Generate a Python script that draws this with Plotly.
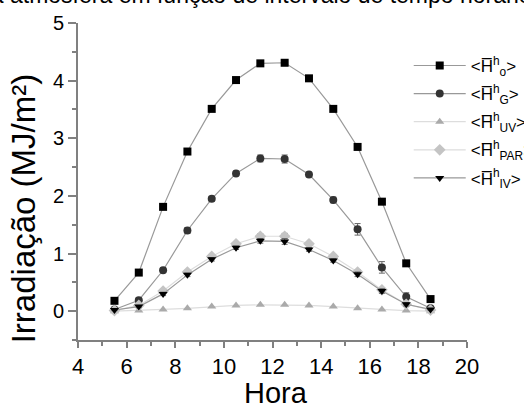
import plotly.graph_objects as go

hora = [5.5, 6.5, 7.5, 8.5, 9.5, 10.5, 11.5, 12.5, 13.5, 14.5, 15.5, 16.5, 17.5, 18.5]
h_o = [0.18, 0.67, 1.81, 2.77, 3.51, 4.01, 4.30, 4.31, 4.04, 3.51, 2.85, 1.90, 0.83, 0.21]
h_g = [0.03, 0.19, 0.71, 1.40, 1.95, 2.39, 2.65, 2.64, 2.37, 1.93, 1.42, 0.76, 0.25, 0.05]
h_g_err = [0.02, 0.04, 0.04, 0.05, 0.04, 0.04, 0.06, 0.07, 0.04, 0.05, 0.10, 0.10, 0.07, 0.02]
h_uv = [0.00, 0.01, 0.03, 0.05, 0.08, 0.10, 0.11, 0.11, 0.10, 0.08, 0.05, 0.03, 0.01, 0.00]
h_par = [0.01, 0.10, 0.35, 0.68, 0.95, 1.17, 1.30, 1.30, 1.17, 0.95, 0.68, 0.37, 0.12, 0.02]
h_par_err = [0.01, 0.02, 0.03, 0.03, 0.03, 0.03, 0.04, 0.05, 0.03, 0.03, 0.04, 0.04, 0.03, 0.01]
h_iv = [0.02, 0.08, 0.30, 0.63, 0.90, 1.10, 1.22, 1.21, 1.07, 0.88, 0.64, 0.35, 0.12, 0.03]
h_iv_err = [0.01, 0.02, 0.03, 0.03, 0.03, 0.03, 0.04, 0.05, 0.03, 0.03, 0.04, 0.04, 0.03, 0.01]

names = [
    "&lt;H\u0305<sup>h</sup><sub>o</sub>&gt;",
    "&lt;H\u0305<sup>h</sup><sub>G</sub>&gt;",
    "&lt;H\u0305<sup>h</sup><sub>UV</sub>&gt;",
    "&lt;H\u0305<sup>h</sup><sub>PAR</sub>&gt;",
    "&lt;H\u0305<sup>h</sup><sub>IV</sub>&gt;",
]

fig = go.Figure()

series = [
    (h_o, None, "square", "#000000", "#999999"),
    (h_g, h_g_err, "circle", "#333333", "#999999"),
    (h_uv, None, "triangle-up", "#aaaaaa", "#dddddd"),
    (h_par, h_par_err, "diamond", "#c4c4c4", "#dddddd"),
    (h_iv, h_iv_err, "triangle-down", "#000000", "#999999"),
]

for i, ((vals, err, sym, mcol, lcol), nm) in enumerate(zip(series, names)):
    fig.add_trace(go.Scatter(
        x=hora, y=vals, name=nm, mode="lines+markers", legendgroup=f"g{i}",
        line=dict(color=lcol, width=1.2),
        marker=dict(symbol=sym, color=mcol, size=8 if sym != "diamond" else 9,
                    line=dict(width=0)),
        error_y=dict(type="data", array=err, visible=err is not None,
                     color="#666666", thickness=1, width=3),
    ))

FONT = "Liberation Sans, Arial"

fig.add_annotation(
    text="na atmosfera em função de intervalo de tempo horário",
    xref="paper", yref="paper", x=-0.262, y=1.087,
    xanchor="left", yanchor="middle", showarrow=False,
    font=dict(family=FONT, size=23, color="black"),
)
fig.add_annotation(
    text="Irradiação (MJ/m²)",
    xref="paper", yref="paper", x=-0.14, y=0.414, textangle=-90,
    xanchor="center", yanchor="middle", showarrow=False,
    font=dict(family=FONT, size=33, color="black"),
)
fig.add_annotation(
    text="Hora",
    xref="paper", yref="paper", x=0.509, y=-0.168,
    xanchor="center", yanchor="middle", showarrow=False,
    font=dict(family=FONT, size=29, color="black"),
)

axis_common = dict(
    showgrid=False, zeroline=False, showline=True, automargin=False,
    linecolor="#808080", linewidth=2,
    ticks="outside", tickcolor="#808080", tickwidth=1.5,
)

fig.update_xaxes(
    range=[4, 20], dtick=2, tick0=4, ticklen=6,
    tickfont=dict(size=22, color="black"),
    minor=dict(dtick=1, ticks="outside", ticklen=4, tickcolor="#808080", tickwidth=1.5),
    **axis_common,
)
fig.update_yaxes(
    range=[-0.5, 5], dtick=1, tick0=0, ticklen=8,
    tickfont=dict(size=20, color="black"),
    minor=dict(dtick=0.5, ticks="outside", ticklen=4, tickcolor="#808080", tickwidth=1.5),
    **axis_common,
)

fig.update_layout(
    width=524, height=403,
    margin=dict(l=78, r=57, t=23, b=63, autoexpand=False),
    paper_bgcolor="white", plot_bgcolor="white",
    font=dict(family=FONT, color="black"),
    showlegend=True,
    legend=dict(
        xref="container", yref="container",
        x=0.78, y=0.881, xanchor="left", yanchor="top",
        font=dict(size=17, color="black"),
        bgcolor="rgba(0,0,0,0)", itemwidth=52,
        tracegroupgap=3,
    ),
)

fig.write_html("out.html", config={"displayModeBar": False},
               post_script="document.body.style.margin='0';")
